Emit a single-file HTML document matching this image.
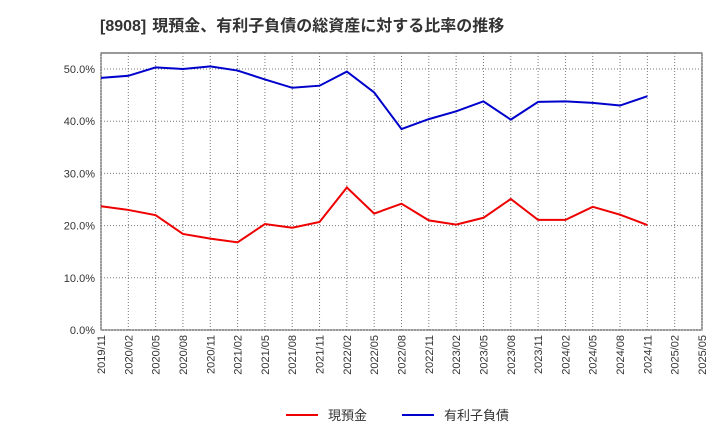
<!DOCTYPE html>
<html><head><meta charset="utf-8"><style>
body{margin:0;background:#fff;}
svg{display:block;font-family:"Liberation Sans","Noto Sans CJK JP",sans-serif;}
</style></head><body>
<svg id="chart" width="720" height="440">
<text x="100" y="31" font-size="16" font-weight="bold" fill="#333">[8908]<tspan dx="6">現預金、有利子負債の総資産に対する比率の推移</tspan></text>
<g id="grid"></g><g id="axes"></g><g id="series"></g>
<g>
<line x1="286" y1="415" x2="318" y2="415" stroke="#e00" stroke-width="2"/>
<text x="328" y="420" font-size="13" fill="#333">現預金</text>
<line x1="402" y1="415" x2="434" y2="415" stroke="#00c" stroke-width="2"/>
<text x="444" y="420" font-size="13" fill="#333">有利子負債</text>
</g>
</svg>
<script>
const categories=["2019/11","2020/02","2020/05","2020/08","2020/11","2021/02","2021/05","2021/08","2021/11","2022/02","2022/05","2022/08","2022/11","2023/02","2023/05","2023/08","2023/11","2024/02","2024/05","2024/08","2024/11","2025/02","2025/05"];
const cashValues=[23.7,23.0,22.0,18.4,17.5,16.8,20.3,19.6,20.7,27.3,22.3,24.2,21.0,20.2,21.5,25.1,21.1,21.1,23.6,22.1,20.1];
const debtValues=[48.3,48.7,50.3,50.0,50.5,49.7,48.0,46.4,46.8,49.5,45.5,38.5,40.4,41.9,43.8,40.3,43.7,43.8,43.5,43.0,44.8];
const yTicks=[0,10,20,30,40,50];
const yTickLabels=["0.0%","10.0%","20.0%","30.0%","40.0%","50.0%"];
const L=101,R=702,T=53,B=330;
const NS="http://www.w3.org/2000/svg";
const xs=i=>L+i*(R-L)/(categories.length-1);
const ys=v=>B-v*(B-69)/50;
function mk(tag,attrs,parent){const e=document.createElementNS(NS,tag);for(const k in attrs)e.setAttribute(k,attrs[k]);document.getElementById(parent).appendChild(e);return e;}
const bg=mk("rect",{x:L,y:T,width:R-L,height:B-T,fill:"#fff",stroke:"#333","stroke-width":1},"grid");


categories.forEach((c,i)=>{
 const g=mk("line",{x1:xs(i),x2:xs(i),y1:T,y2:B,stroke:"#777","stroke-dasharray":"1,2","stroke-width":1},"grid");
 
 
 const x=xs(i)+4,y=335;
 const t=mk("text",{x:x,y:y,"font-size":11,fill:"#333","text-anchor":"end",transform:`rotate(-90 ${x} ${y})`},"axes");
 t.textContent=c;
 
 
});
yTicks.forEach((v,i)=>{
 const g=mk("line",{x1:L,x2:R,y1:ys(v),y2:ys(v),stroke:"#777","stroke-dasharray":"1,2","stroke-width":1},"grid");
 
 
 const t=mk("text",{x:L-6,y:ys(v)+4,"font-size":11,fill:"#333","text-anchor":"end"},"axes");
 t.textContent=yTickLabels[i];
 
 
});
const cl=mk("polyline",{points:cashValues.map((v,i)=>xs(i)+","+ys(v)).join(" "),fill:"none",stroke:"#e00","stroke-width":2},"series");


const dl=mk("polyline",{points:debtValues.map((v,i)=>xs(i)+","+ys(v)).join(" "),fill:"none",stroke:"#00c","stroke-width":2},"series");


</script>
</body></html>
